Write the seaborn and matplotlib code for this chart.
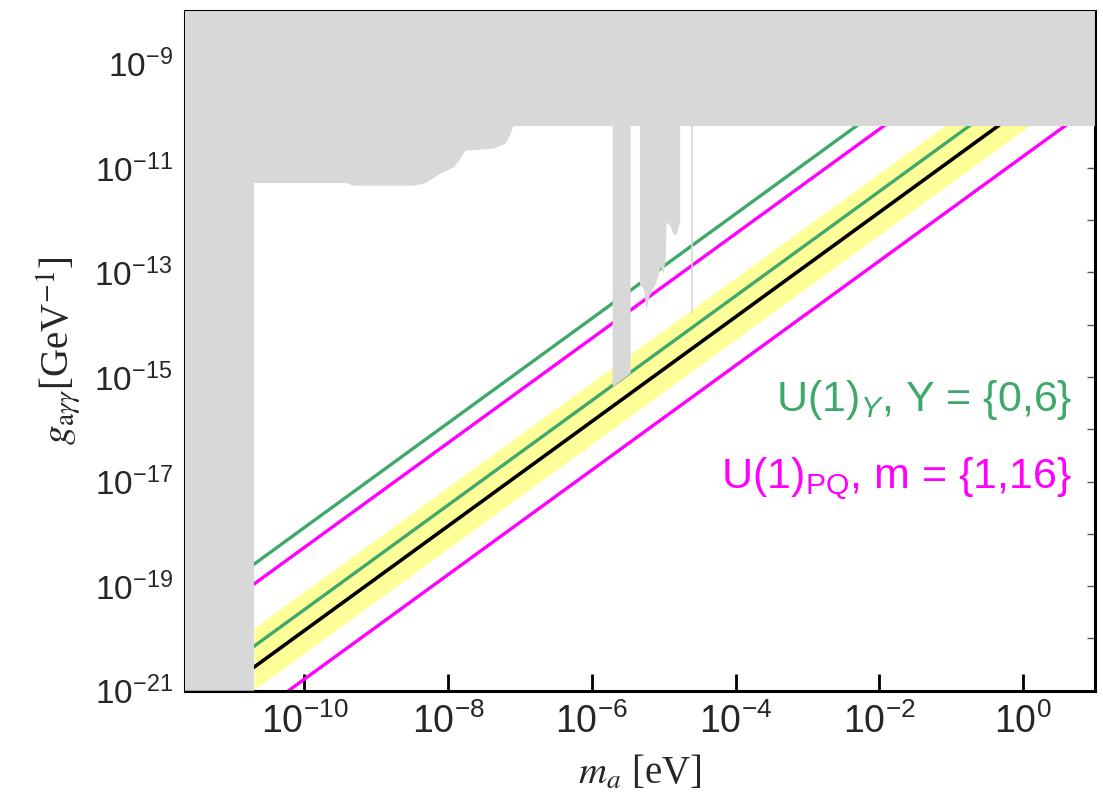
import numpy as np
import pandas as pd
import matplotlib
matplotlib.use("Agg")
import matplotlib.pyplot as plt
import seaborn as sns

# ---------------- data (log10 values) ----------------
x_limits = [10**-11.66, 10**1.0]          # m_a [eV]
y_limits = [1e-21, 1e-8]                  # g [GeV^-1]

# straight coupling lines: (start, end) in m_a and g
black_m = [10**-10.70, 10**-0.33]
black_g = [10**-20.55, 10**-10.18]
green_hi_m = [10**-10.70, 10**-2.30]
green_hi_g = [10**-18.58, 10**-10.18]
green_lo_m = [10**-10.70, 10**-0.73]
green_lo_g = [10**-20.15, 10**-10.18]
magenta_hi_m = [10**-10.70, 10**-1.92]
magenta_hi_g = [10**-18.96, 10**-10.18]
magenta_lo_m = [10**-10.70, 10**0.60]
magenta_lo_g = [10**-21.48, 10**-10.18]

# yellow band edges
band_m = [10**-10.70, 10**1.0]
band_lo = [10**-20.98, 10**-9.28]
band_hi = [10**-19.80, 10**-8.10]

# grey excluded regions
top_limit_g = 10**-10.2
left_strip_m = 10**-10.70
shelf_m_log = [-7.09, -7.13, -7.20, -7.37, -7.55, -7.76, -7.86, -7.92, -8.11,
                -8.31, -8.48, -9.32, -9.41, -10.70]
shelf_g_log = [-10.20, -10.35, -10.54, -10.63, -10.65, -10.67, -10.89, -10.99,
                -11.11, -11.29, -11.34, -11.34, -11.29, -11.29]
bar1_m_log = [-5.71, -5.71, -5.46, -5.46]
bar1_g_log = [-10.2, -15.19, -14.93, -10.2]
bar2_m_log = [-5.33, -5.33, -5.27, -5.24, -5.20, -5.16, -5.11, -5.04, -5.00,
              -4.97, -4.96, -4.90, -4.87, -4.82, -4.77, -4.77]
bar2_g_log = [-10.2, -13.22, -13.34, -13.73, -13.47, -13.34, -13.22, -12.90,
              -13.03, -12.71, -12.04, -12.13, -12.26, -12.29, -12.01, -10.2]
thin_m_log = -4.61
thin_g_log = [-10.2, -13.78]

x_ticks_major = [-10, -8, -6, -4, -2, 0]
x_ticks_all = list(range(-11, 1))
y_ticks_major = [-9, -11, -13, -15, -17, -19, -21]
y_ticks_minor = [-10, -12, -14, -16, -18, -20]

label_green = "U(1)$_{Y}$, Y = {0,6}"
label_magenta = "U(1)$_{\\mathrm{PQ}}$, m = {1,16}"

# ---------------- style ----------------
GREY = "#d8d8d8"
GREEN = "#3fa86b"
MAGENTA = "#ff00ff"
YELLOW = "#ffff99"

sns.set_style("white")
plt.rcParams["font.family"] = ["Liberation Sans", "DejaVu Sans"]
plt.rcParams["mathtext.fontset"] = "custom"
plt.rcParams["mathtext.rm"] = "Liberation Sans"
plt.rcParams["mathtext.it"] = "Liberation Sans:italic"
plt.rcParams["mathtext.bf"] = "Liberation Sans:bold"

fig = plt.figure(figsize=(11.03, 8.06), dpi=100)
ax = fig.add_axes([0.1677, 0.1430, 0.8250, 0.8433])
ax.set_xscale("log")
ax.set_yscale("log")

# yellow band
ax.fill_between(band_m, band_lo, band_hi, color=YELLOW, lw=0, zorder=1)

lines = pd.DataFrame({
    "m": black_m + green_hi_m + green_lo_m + magenta_hi_m + magenta_lo_m,
    "g": black_g + green_hi_g + green_lo_g + magenta_hi_g + magenta_lo_g,
    "line": ["black"] * 2 + ["green_hi"] * 2 + ["green_lo"] * 2
            + ["magenta_hi"] * 2 + ["magenta_lo"] * 2,
})
palette = {"black": "black", "green_hi": GREEN, "green_lo": GREEN,
           "magenta_hi": MAGENTA, "magenta_lo": MAGENTA}
sns.lineplot(data=lines, x="m", y="g", hue="line", palette=palette,
             units="line", estimator=None, sort=False, legend=False,
             linewidth=2.4, ax=ax, zorder=2)
for l in ax.lines:
    if l.get_color() == "black":
        l.set_linewidth(2.6)

# grey exclusion regions (on top of lines)
xl, xr = x_limits
ax.fill([xl, xr, xr] + [10**v for v in shelf_m_log] + [left_strip_m, xl],
        [y_limits[1], y_limits[1], top_limit_g] + [10**v for v in shelf_g_log]
        + [y_limits[0], y_limits[0]], color=GREY, lw=0, zorder=3)
ax.fill([10**v for v in bar1_m_log], [10**v for v in bar1_g_log],
        color=GREY, lw=0, zorder=3)
ax.fill([10**v for v in bar2_m_log], [10**v for v in bar2_g_log],
        color=GREY, lw=0, zorder=3)
ax.plot([10**thin_m_log] * 2, [10**v for v in thin_g_log], color=GREY,
        lw=1.2, zorder=3)

ax.set_xlim(x_limits)
ax.set_ylim(y_limits)

# ticks
ax.set_xticks([10.0**v for v in x_ticks_major])
ax.set_xticks([], minor=True)
ax.set_xticklabels([f"$10^{{{v}}}$" for v in x_ticks_major])
ax.set_yticks([10.0**v for v in y_ticks_major])
ax.set_yticks([10.0**v for v in y_ticks_minor], minor=True)
ax.set_yticklabels([f"$10^{{{v}}}$" for v in y_ticks_major], minor=False)
ax.set_yticklabels([], minor=True)
ax.tick_params(axis="x", which="major", direction="in", length=12, width=2,
               labelsize=27, pad=9, top=False, bottom=True, color="black")
ax.tick_params(axis="y", which="both", direction="in", length=6, width=1,
               labelsize=24, pad=9, left=True, right=True, color="#555555")

top = ax.secondary_xaxis("top")
top.set_xticks([10.0**v for v in x_ticks_all])
top.set_xticks([], minor=True)
top.tick_params(direction="in", length=6, width=1, labeltop=False, color="#555555")
top.spines["top"].set_visible(False)

for s in ax.spines.values():
    s.set_color("black")
    s.set_linewidth(2.2)

ax.text(0.975, (690.7 - 411) / 679.7, label_green, color=GREEN, fontsize=31,
        ha="right", va="baseline", transform=ax.transAxes, zorder=5)
ax.text(0.975, (690.7 - 488) / 679.7, label_magenta, color=MAGENTA, fontsize=31,
        ha="right", va="baseline", transform=ax.transAxes, zorder=5)

ax.set_xlabel("$m_a$ [eV]", fontsize=28, family="Liberation Serif",
              math_fontfamily="stix", labelpad=10)
ax.set_ylabel("$g_{\\mathrm{a}\\gamma\\gamma}$[GeV$^{-1}$]", fontsize=28,
              family="Liberation Serif", math_fontfamily="stix", labelpad=8)

fig.savefig("out.png", dpi=100)
